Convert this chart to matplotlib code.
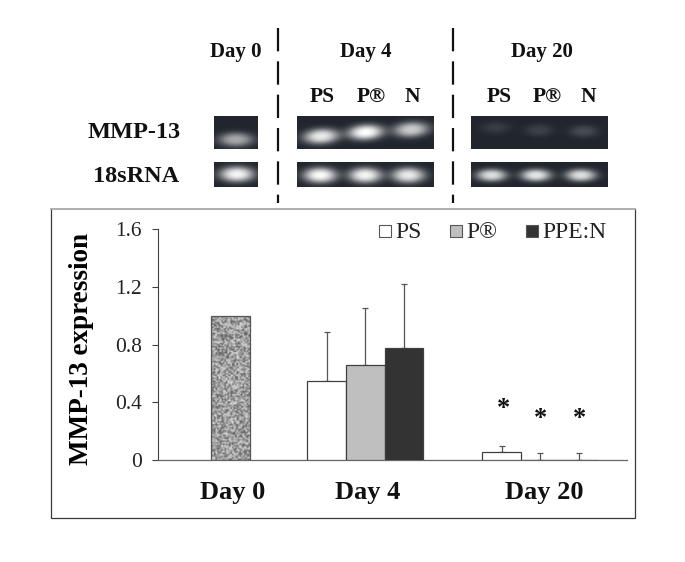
import numpy as np
import matplotlib
matplotlib.use("Agg")
import matplotlib.pyplot as plt
from matplotlib.patches import Rectangle

plt.rcParams['font.family'] = ['Liberation Serif', 'DejaVu Serif']

# ---- chart data ----
series_names = ["PS", "P®", "PPE:N"]
day0_value = [1.0]
day4_values = [0.549, 0.655, 0.773]
day4_upper = [0.889, 1.051, 1.218]
day20_values = [0.051, 0.0, 0.0]
day20_upper = [0.093, 0.044, 0.044]
y_ticks = [0, 0.4, 0.8, 1.2, 1.6]
y_tick_labels = ["0", "0.4", "0.8", "1.2", "1.6"]
group_labels = ["Day 0", "Day 4", "Day 20"]
sample_labels = ["PS", "P®", "N"]

# gel band brightness (0-1)
mmp_day0 = [0.6]
mmp_day4 = [0.9, 1.0, 0.76]
mmp_day20 = [0.1, 0.12, 0.17]
rna_day0 = [0.95]
rna_day4 = [0.98, 0.95, 0.9]
rna_day20 = [0.85, 0.88, 0.85]

# ---- layout (pixels) ----
W, H = 685, 562
L, R, T, B = 157.7, 627.0, 229.3, 459.7
SLOT = 38.6
colors = ["#ffffff", "#bfbfbf", "#333333"]
edge = "#404040"

fig = plt.figure(figsize=(W / 100, H / 100), dpi=100, facecolor="white")
ov = fig.add_axes([0, 0, 1, 1], zorder=0)
ov.set_xlim(0, W)
ov.set_ylim(H, 0)
ov.axis("off")

# frame
ov.plot([51, 51, 634.7, 634.7], [209, 518.3, 518.3, 209], color="#3a3a3a", lw=0.9, solid_joinstyle="miter")
ov.plot([51, 634.7], [209, 209], color="#a8a8a8", lw=1.3)

# dashed separators
for xd in (278, 453):
    ov.plot([xd, xd], [28, 203], color="#111111", lw=1.6, dashes=(10.5, 4.5), dash_capstyle="butt")


def gel(x0, x1, y0, y1, centers, ys, vals, sx, sy, tilt=0.0):
    xx, yy = np.meshgrid(np.arange(x0, x1, 0.5), np.arange(y0, y1, 0.5))
    img = np.full(xx.shape, 0.0)
    for c, yc, v in zip(centers, ys, vals):
        dy = (yy - yc) + tilt * (xx - c)
        img = img + v * np.exp(-(((xx - c) / sx) ** 2 + (dy / sy) ** 2) ** 1.3)
    img = np.clip(img, 0, 1)
    rgb = np.zeros(xx.shape + (3,))
    bg = np.array([0.13, 0.15, 0.18])
    for k in range(3):
        rgb[..., k] = bg[k] + (1 - bg[k]) * img
    ov.imshow(rgb, extent=(x0, x1, y1, y0), aspect="auto", interpolation="bilinear", zorder=2)


gel(214.5, 258, 116.7, 149.3, [236], [140], mmp_day0, 17, 7)
gel(297, 433.8, 116.7, 149.3, [321, 365.5, 411], [136.7, 132.7, 130], mmp_day4, 17.5, 7.5, 0.05)
gel(471.3, 608, 116.7, 149.3, [496, 539, 583.6], [128, 130.7, 131.7], mmp_day20, 14, 6)
gel(214.5, 258, 162.3, 186.7, [237], [174], rna_day0, 17, 7.5)
gel(297, 433.8, 162.3, 186.7, [320, 365, 408], [175, 175, 175], rna_day4, 16.5, 7.5)
gel(471.3, 608, 162.3, 186.7, [491.6, 536, 581], [175, 175, 175], rna_day20, 15, 6)
ov.set_xlim(0, W)
ov.set_ylim(H, 0)

# blot labels
for x, label in zip((235.6, 365.5, 541.8), group_labels):
    ov.text(x, 52.5, label, ha="center", va="center", fontsize=15, fontweight="bold", color="#111111")
for xs in ((322.5, 371, 412), (499, 547, 588)):
    for x, label in zip(xs, sample_labels):
        ov.text(x, 96.5, label, ha="center", va="center", fontsize=15.5, fontweight="bold", color="#111111")
ov.text(134.5, 133, "MMP-13", ha="center", va="center", fontsize=17.5, fontweight="bold", color="#111111")
ov.text(136, 176.5, "18sRNA", ha="center", va="center", fontsize=17.5, fontweight="bold", color="#111111")

# main axes
ax = fig.add_axes([L / W, 1 - B / H, (R - L) / W, (B - T) / H], zorder=2)
ax.patch.set_alpha(0)
ax.set_xlim(0, (R - L) / SLOT)
ax.set_ylim(0, 1.6)

# slot positions of the bars
x_day0 = [1.89]
x_day4 = [4.38, 5.38, 6.38]
x_day20 = [8.91, 9.91, 10.91]

bar0 = ax.bar(x_day0, day0_value, width=1.0, facecolor="none", edgecolor="#555555", lw=0.9, zorder=3)[0]
i, j = np.meshgrid(np.arange(26), np.arange(96))
noise = np.sin(i * 12.9898 + j * 78.233) * 43758.5453
noise = noise - np.floor(noise)
tex = ax.imshow(noise, extent=(x_day0[0] - .5, x_day0[0] + .5, 0, day0_value[0]), aspect="auto",
                cmap="gray", vmin=-0.7, vmax=1.25, interpolation="bilinear", zorder=2)
tex.set_clip_path(bar0)
ax.set_xlim(0, (R - L) / SLOT)
ax.set_ylim(0, 1.6)

ax.bar(x_day4, day4_values, width=1.0, color=colors, edgecolor=edge, lw=0.9, zorder=3)
ax.bar(x_day20, day20_values, width=1.0, color=colors, edgecolor=edge, lw=0.9, zorder=3)
for xs, vals, tops in ((x_day4, day4_values, day4_upper), (x_day20, day20_values, day20_upper)):
    ax.errorbar(xs, vals, yerr=[np.zeros(3), np.array(tops) - np.array(vals)], fmt="none",
                ecolor="#555555", elinewidth=0.9, capsize=2, capthick=0.9, zorder=2)

for s in ("top", "right"):
    ax.spines[s].set_visible(False)
ax.spines["left"].set_color("#404040")
ax.spines["bottom"].set_color("#666666")
ax.spines["left"].set_linewidth(0.8)
ax.spines["bottom"].set_linewidth(0.9)
ax.set_xticks([])
ax.set_yticks(y_ticks)
ax.set_yticklabels(y_tick_labels, fontsize=15.5, color="#222222", va="center_baseline")
ax.tick_params(axis="y", length=4.3, width=0.8, color="#404040", pad=7)

# text on the main panel
ov.text(81.5, 349, "MMP-13 expression", rotation=90, ha="center", va="center",
        fontsize=19.5, fontweight="bold", color="#000000")
for x, label in zip((233, 368, 544), group_labels):
    ov.text(x, 493, label, ha="center", va="center", fontsize=19, fontweight="bold", color="#111111")
for x, y in zip((503.7, 541, 579.7), (405, 415, 415)):
    ov.text(x, y + 3, "*", ha="center", va="center", fontsize=19, fontweight="bold", color="#111111")

# legend
for x, name, col, tx in zip((379, 450, 526), series_names, colors, (395.7, 466.7, 542.3)):
    ov.add_patch(Rectangle((x, 225), 11.7, 11.7, facecolor=col, edgecolor="#555555", lw=0.8, zorder=3))
    ov.text(tx, 232.5, name, ha="left", va="center", fontsize=17, color="#222222")

fig.savefig("out.png", dpi=100)
